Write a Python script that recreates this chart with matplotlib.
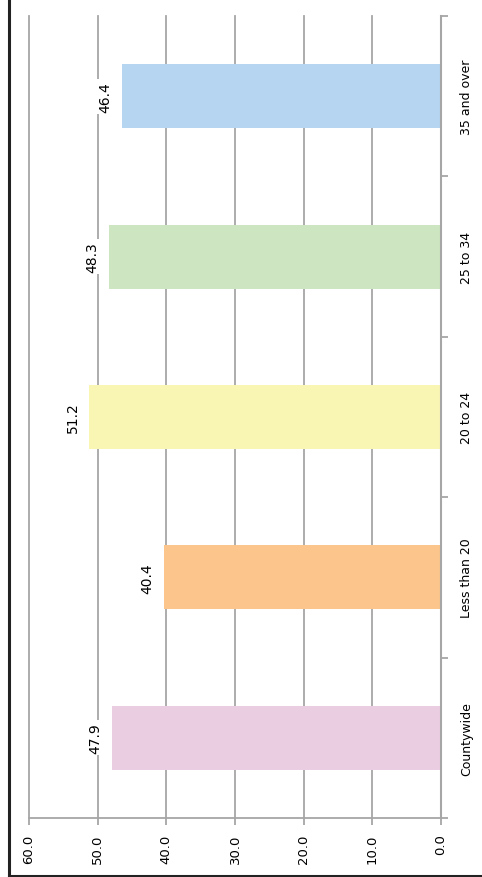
import matplotlib
matplotlib.use("Agg")
import matplotlib.pyplot as plt
from matplotlib.lines import Line2D

categories = ["Countywide", "Less than 20", "20 to 24", "25 to 34", "35 and over"]
values = [47.9, 40.4, 51.2, 48.3, 46.4]
colors = ["#EBCDE2", "#FBC58B", "#F9F6B4", "#CDE5C0", "#B5D5F0"]
xticks = [0, 10, 20, 30, 40, 50, 60]

W, H = 482, 878
fig = plt.figure(figsize=(W / 100, H / 100), dpi=100)
ax = fig.add_axes([29 / W, (H - 819) / H, (441 - 29) / W, (819 - 17) / H])

pos = list(range(len(categories)))
ax.barh(pos, values, height=0.4, color=colors, zorder=2)

ax.set_xlim(60, 0)
ax.set_ylim(-0.5, len(categories) - 0.5)

grid_c = "#A6A6A6"
ax.set_xticks(xticks)
ax.set_xticklabels([f"{t:.1f}" for t in xticks], rotation=90, fontsize=9.5)
for t in xticks[1:]:
    ax.axvline(t, color=grid_c, lw=1.3, zorder=1, clip_on=False)

ax.yaxis.tick_right()
ax.set_yticks([p - 0.5 for p in pos] + [len(categories) - 0.5])
ax.set_yticklabels([])
ax.set_yticks(pos, minor=True)
ax.set_yticklabels(categories, minor=True, rotation=90, va="center", fontsize=9)
ax.tick_params(axis="y", which="minor", length=0, pad=14)
ax.tick_params(axis="y", which="major", length=5, color=grid_c, width=1.3)
ax.tick_params(axis="x", length=5, color=grid_c, width=1.3, pad=6)

for s in ["top", "left"]:
    ax.spines[s].set_visible(False)
ax.spines["right"].set_color(grid_c)
ax.spines["right"].set_linewidth(1.5)
ax.spines["bottom"].set_color(grid_c)
ax.spines["bottom"].set_linewidth(1.3)

for p, v in zip(pos, values):
    ax.annotate(f"{v:.1f}", xy=(v, p), xytext=(-7, 0), textcoords="offset points",
                rotation=90, ha="right", va="center", fontsize=10, zorder=3,
                bbox=dict(boxstyle="square,pad=0.15", fc="white", ec="none"))

fig.add_artist(Line2D([9 / W, 9 / W], [0, 1], color="#222222", lw=2.2))
fig.add_artist(Line2D([9 / W, 1], [1.5 / H, 1.5 / H], color="#222222", lw=2.2))

fig.savefig("out.png", dpi=100)
